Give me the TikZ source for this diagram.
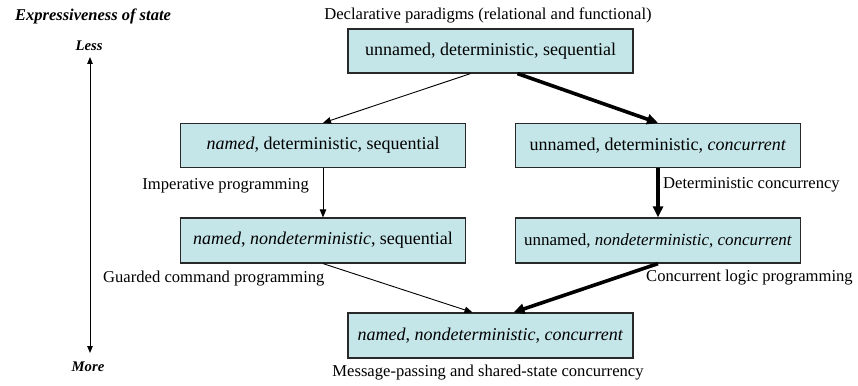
\documentclass[tikz,border=0pt]{standalone}
\usepackage{fontspec}
\setmainfont{Liberation Serif}
\usetikzlibrary{arrows.meta,calc}
\definecolor{boxfill}{RGB}{197,230,233}
\definecolor{boxline}{RGB}{40,40,40}
\tikzset{
  statebox/.style={draw=boxline, line width=1.2pt, fill=boxfill, minimum width=285pt, minimum height=44pt, inner sep=0pt, font=\fontsize{18}{21}\selectfont},
  lbl/.style={inner sep=0pt, font=\fontsize{16.6}{19}\selectfont},
  axistitle/.style={inner sep=0pt, font=\fontsize{16.5}{19}\selectfont\bfseries\itshape},
  axislbl/.style={inner sep=0pt, font=\fontsize{14.7}{17}\selectfont\bfseries\itshape},
  thinarrow/.style={line width=0.9pt, -{Triangle[length=8pt,width=6.5pt]}},
  thickarrow/.style={line width=3.6pt, -{Triangle[length=11pt,width=10pt]}}
}
\begin{document}
\begin{tikzpicture}[x=1pt,y=-1pt]
\useasboundingbox (0,0) rectangle (858,385);
% boxes
\node[statebox] (top) at (490.5,51) {unnamed, deterministic, sequential};
\node[statebox] (lm) at (323,145.5) {\textit{named}, deterministic, sequential};
\node[statebox] (rm) at (658,145.5) {unnamed, deterministic, \textit{concurrent}};
\node[statebox, minimum height=45pt] (ll) at (323,240.5) {\textit{named}, \textit{nondeterministic}, sequential};
\node[statebox, minimum height=45pt, font=\fontsize{17}{20}\selectfont] (rl) at (658,240.5) {unnamed, \textit{nondeterministic}, \textit{concurrent}};
\node[statebox, minimum height=45pt] (bot) at (490.5,335.5) {\textit{named}, \textit{nondeterministic}, \textit{concurrent}};
% labels
\node[lbl] (decl) at (488,15) {Declarative paradigms (relational and functional)};
\node[lbl, anchor=east] (imp) at (309,186) {Imperative programming};
\node[lbl, anchor=west] (guard) at (103,279) {Guarded command programming};
\node[lbl, anchor=west] (detc) at (663,185) {Deterministic concurrency};
\node[lbl, anchor=west] (clp) at (646,278) {Concurrent logic programming};
\node[lbl] (msg) at (488,373) {Message-passing and shared-state concurrency};
% axis
\node[axistitle] (expr) at (93,16) {Expressiveness of state};
\node[axislbl] (less) at (89,46) {Less};
\node[axislbl] (more) at (88,367) {More};
\coordinate (axtop) at (90,57);
\coordinate (axbot) at (90,353);
\draw[line width=0.9pt, {Triangle[length=7pt,width=5.5pt]}-{Triangle[length=7pt,width=5.5pt]}] (axtop) -- (axbot);
% connectors
\draw[thinarrow] ($(top.south)+(-20,0)$) -- (lm.north);
\draw[thickarrow] ($(top.south)+(27,0)$) -- (rm.north);
\draw[thinarrow] (lm.south) -- (ll.north);
\draw[thickarrow] (rm.south) -- (rl.north);
\draw[thinarrow] (ll.south) -- ($(bot.north)+(-18,0)$);
\draw[thickarrow] (rl.south) -- ($(bot.north)+(23,0)$);
\end{tikzpicture}
\end{document}
